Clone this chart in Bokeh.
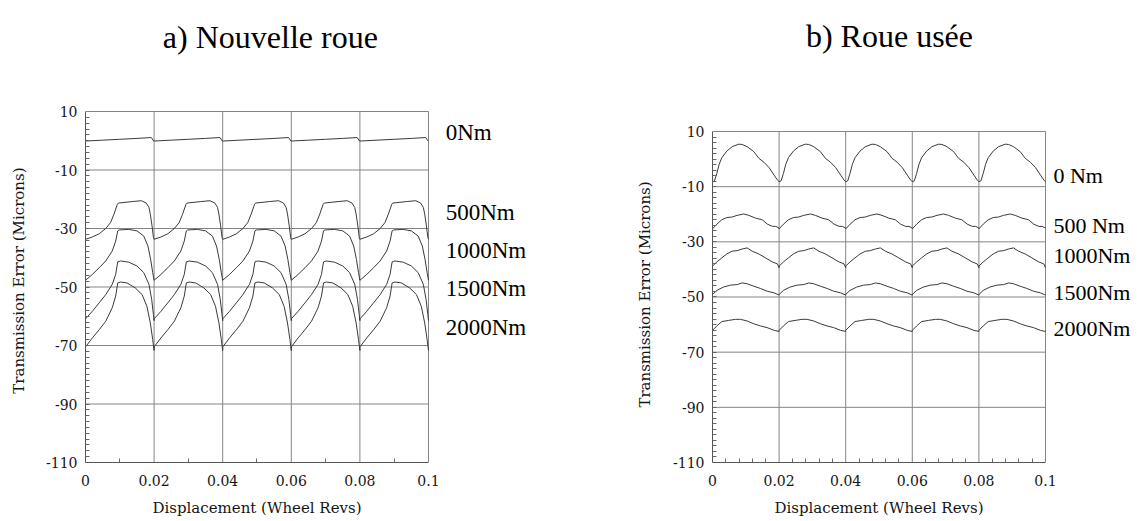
from bokeh.plotting import figure
from bokeh.layouts import row
from bokeh.models import (Range1d, FixedTicker, NumeralTickFormatter, LinearAxis,
                          CustomJSTickFormatter)
from bokeh.core.properties import value
from bokeh.embed import file_html
from bokeh.resources import INLINE

# ---------------- data ----------------
tooth_starts = [0.0, 0.02, 0.04, 0.06, 0.08]
x_ticks = [0.0, 0.02, 0.04, 0.06, 0.08, 0.1]
y_ticks = [10, -10, -30, -50, -70, -90, -110]
grid_x = [0.02, 0.04, 0.06, 0.08, 0.1]
grid_y = [10, -10, -30, -50, -70, -90]
minor_x_new = [0.01, 0.03, 0.05, 0.07, 0.09]
minor_x_worn = [0.004, 0.008, 0.012, 0.016, 0.024, 0.028, 0.032, 0.036,
                0.044, 0.048, 0.052, 0.056, 0.064, 0.068, 0.072, 0.076,
                0.084, 0.088, 0.092, 0.096]
minor_y = list(range(-108, 10, 2))

title_new = "a) Nouvelle roue"
title_worn = "b) Roue usée"
x_title = "Displacement (Wheel Revs)"
y_title = "Transmission Error (Microns)"
labels_new = ["0Nm", "500Nm", "1000Nm", "1500Nm", "2000Nm"]
labels_worn = ["0 Nm", "500 Nm", "1000Nm", "1500Nm", "2000Nm"]

# one tooth-mesh cycle (x within cycle, transmission error in microns) - new wheel
new_0_x = [0.0, 0.005, 0.010, 0.015, 0.0192, 0.0199]
new_0_y = [-0.1, 0.2, 0.5, 0.8, 1.1, -0.1]
new_500_x = [0.0, 0.002, 0.004, 0.0059, 0.0073, 0.0083, 0.0093, 0.0096, 0.0136,
             0.0163, 0.0177, 0.0185, 0.0189, 0.0194, 0.0198, 0.02]
new_500_y = [-33.7, -32.9, -31.8, -30.0, -28.0, -25.1, -21.7, -21.3, -20.8,
             -20.5, -21.3, -22.8, -25.1, -29.1, -33.0, -33.7]
new_1000_x = [0.0, 0.002, 0.004, 0.0059, 0.0078, 0.0088, 0.0094, 0.0098, 0.0126,
              0.015, 0.017, 0.0182, 0.019, 0.0196, 0.02]
new_1000_y = [-47.7, -45.7, -43.4, -41.1, -37.7, -34.3, -30.8, -30.5, -30.3,
              -30.8, -32.6, -36.0, -40.6, -45.1, -47.7]
new_1500_x = [0.0, 0.002, 0.004, 0.0059, 0.0078, 0.0088, 0.0094, 0.0102, 0.0126,
              0.015, 0.017, 0.0185, 0.0193, 0.0198, 0.02]
new_1500_y = [-60.9, -58.3, -55.4, -52.6, -49.1, -45.7, -41.4, -41.1, -41.5,
              -42.8, -45.1, -49.1, -54.3, -59.4, -61.5]
new_2000_x = [0.0, 0.002, 0.004, 0.0059, 0.0078, 0.0088, 0.0094, 0.0102, 0.0121,
              0.0145, 0.0165, 0.0179, 0.0189, 0.0196, 0.02]
new_2000_y = [-70.5, -67.4, -64.6, -61.7, -57.1, -53.1, -48.6, -48.3, -48.6,
              -50.3, -52.6, -56.6, -62.3, -68.0, -71.7]

# one tooth-mesh cycle - worn wheel
worn_0_x = [0.0, 0.0006, 0.0013, 0.002, 0.0028, 0.0043, 0.0059, 0.0079, 0.0089,
            0.0104, 0.0124, 0.0139, 0.0155, 0.017, 0.0185, 0.0195, 0.02]
worn_0_y = [-8.2, -7.9, -5.2, -1.9, 0.5, 2.9, 4.5, 5.4, 5.3,
            4.5, 2.7, 0.3, -1.2, -3.1, -5.8, -7.6, -8.2]
worn_500_x = [0.0, 0.0013, 0.0028, 0.0043, 0.0059, 0.0074, 0.0094, 0.0109,
              0.0129, 0.0149, 0.0165, 0.018, 0.019, 0.02]
worn_500_y = [-25.3, -23.6, -22.0, -21.2, -21.0, -20.4, -19.9, -20.4,
              -21.4, -22.0, -23.6, -24.4, -24.4, -25.0]
worn_1000_x = [0.0, 0.0013, 0.0028, 0.0043, 0.0059, 0.0074, 0.0089, 0.0104,
               0.0119, 0.0139, 0.0159, 0.018, 0.0195, 0.02]
worn_1000_y = [-38.8, -37.3, -35.8, -34.4, -33.4, -33.2, -32.6, -32.2,
               -33.4, -34.4, -35.8, -37.3, -38.0, -39.4]
worn_1500_x = [0.0, 0.0013, 0.0033, 0.0054, 0.0074, 0.0089, 0.0104, 0.0124,
               0.0144, 0.0164, 0.0185, 0.02]
worn_1500_y = [-49.1, -47.6, -46.4, -45.7, -45.5, -44.9, -45.2, -46.1,
               -46.9, -47.9, -48.5, -49.3]
worn_2000_x = [0.0, 0.0013, 0.0028, 0.0048, 0.0069, 0.0084, 0.0104, 0.0124,
               0.0144, 0.0164, 0.0185, 0.02]
worn_2000_y = [-62.1, -60.5, -58.9, -58.5, -58.1, -58.1, -58.7, -59.7,
               -60.5, -61.1, -62.1, -62.5]

# ---------------- layout / style constants ----------------
SERIF = "Liberation Serif"
AXFONT = "DejaVu Serif"
CURVE = "#3a3a3a"
GRID = "#858585"
TXT = "#151515"
X_LO, X_HI = 0.0, 0.1
Y_LO, Y_HI = -110, 10


def tile(px, py):
    xs, ys = [], []
    for s in tooth_starts:
        xs += [s + v for v in px]
        ys += list(py)
    return xs, ys


def title_axis(p, side, tick, text, standoff, orientation):
    ax = LinearAxis(ticker=FixedTicker(ticks=[tick], minor_ticks=[]),
                    formatter=CustomJSTickFormatter(args=dict(t=text), code="return t"),
                    axis_line_color=None, major_tick_line_color=None,
                    minor_tick_line_color=None, major_tick_in=0, major_tick_out=0,
                    minor_tick_in=0, minor_tick_out=0,
                    major_label_standoff=standoff, major_label_text_font=AXFONT,
                    major_label_text_font_size="15px", major_label_text_color=TXT,
                    major_label_orientation=orientation)
    p.add_layout(ax, side)


def make_fig(width, left, x_end, y_top, minor_x):
    p = figure(width=width, height=521, x_range=Range1d(X_LO, x_end),
               y_range=Range1d(Y_LO, y_top),
               output_backend="svg", toolbar_location=None,
               min_border_left=left, min_border_right=0,
               min_border_top=0, min_border_bottom=59)
    p.outline_line_color = None
    p.background_fill_color = "white"
    p.border_fill_color = "white"
    p.xgrid.visible = False
    p.ygrid.visible = False
    # grid lines, bounded to the axes extent
    p.segment(x0=grid_x, y0=[Y_LO] * len(grid_x), x1=grid_x, y1=[Y_HI] * len(grid_x),
              line_color=GRID, line_width=1)
    p.segment(x0=[X_LO] * len(grid_y), y0=grid_y, x1=[X_HI] * len(grid_y), y1=grid_y,
              line_color=GRID, line_width=1)
    p.xaxis.bounds = (X_LO, X_HI)
    p.yaxis.bounds = (Y_LO, Y_HI)
    p.xaxis.ticker = FixedTicker(ticks=x_ticks, minor_ticks=minor_x)
    p.yaxis.ticker = FixedTicker(ticks=y_ticks, minor_ticks=minor_y)
    p.xaxis.formatter = NumeralTickFormatter(format="0.[00]")
    p.yaxis.formatter = NumeralTickFormatter(format="0")
    for ax in (p.xaxis, p.yaxis):
        ax.axis_line_color = "#555555"
        ax.major_tick_in = 0
        ax.major_tick_out = 0
        ax.minor_tick_in = 4
        ax.minor_tick_out = 0
        ax.minor_tick_line_color = "#666666"
        ax.major_label_text_font = AXFONT
        ax.major_label_text_font_size = "14px"
        ax.major_label_text_color = TXT
    p.yaxis.major_label_standoff = 8
    p.xaxis.major_label_standoff = 12
    return p


def add_text(p, xs, ys, texts, size, align, baseline):
    p.text(x=xs, y=ys, text=texts, text_font=value(SERIF), text_font_size=value(size),
           text_align=align, text_baseline=baseline, text_color="black")


# ---------------- left: new wheel ----------------
p1 = make_fig(600, 85, 0.15015, 47.95, minor_x_new)
for px, py in [(new_0_x, new_0_y), (new_500_x, new_500_y), (new_1000_x, new_1000_y),
               (new_1500_x, new_1500_y), (new_2000_x, new_2000_y)]:
    xs, ys = tile(px, py)
    p1.line(xs, ys, line_color=CURVE, line_width=1)
add_text(p1, [0.0539], [35.64], [title_new], "32px", "center", "middle")
add_text(p1, [0.105] * 5, [2.92, -24.43, -37.52, -50.62, -63.95], labels_new,
         "23px", "left", "middle")
title_axis(p1, "below", 0.05, x_title, 10, "horizontal")
title_axis(p1, "left", -47.8, y_title, 15, "vertical")

# ---------------- right: worn wheel ----------------
p2 = make_fig(538, 112, 0.12793, 57.49, minor_x_worn)
for px, py in [(worn_0_x, worn_0_y), (worn_500_x, worn_500_y), (worn_1000_x, worn_1000_y),
               (worn_1500_x, worn_1500_y), (worn_2000_x, worn_2000_y)]:
    xs, ys = tile(px, py)
    p2.line(xs, ys, line_color=CURVE, line_width=1)
add_text(p2, [0.05315], [44.44], [title_worn], "32px", "center", "middle")
add_text(p2, [0.1024] * 5, [-5.95, -24.08, -34.96, -48.26, -61.53], labels_worn,
         "22px", "left", "middle")
title_axis(p2, "below", 0.05, x_title, 10, "horizontal")
title_axis(p2, "left", -49.1, y_title, 16, "vertical")

layout = row(p1, p2)
open("out.html", "w").write(file_html(layout, INLINE))
